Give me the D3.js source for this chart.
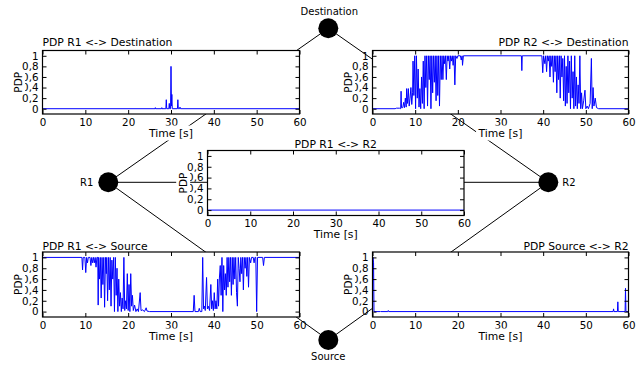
<!DOCTYPE html>
<html><head><meta charset="utf-8">
<script src="https://cdn.jsdelivr.net/npm/d3@7/dist/d3.min.js"></script>
<style>
html,body{margin:0;padding:0;background:#fff;}
svg{display:block;font-family:"DejaVu Sans",sans-serif;}
</style></head>
<body>
<svg id="chart" width="637" height="367"></svg>
<script>
// ---------------- DATA ----------------
const xTicks = [0, 10, 20, 30, 40, 50, 60];
const yTicks = [0, 0.2, 0.4, 0.6, 0.8, 1];
const yTickLabels = ["0", "0,2", "0,4", "0,6", "0,8", "1"];
const xLabel = "Time [s]";
const yLabel = "PDP";

const nodeNames = ["Destination", "R1", "R2", "Source"];
const nodeGridX = [0, -1, 1, 0];
const nodeGridY = [1, 0, 0, -1];
const edges = [["Destination","R1"],["Destination","R2"],["R1","R2"],["R1","Source"],["R2","Source"]];

const plotTitles = ["PDP R1 <-> Destination", "PDP R2 <-> Destination", "PDP R1 <-> R2", "PDP R1 <-> Source", "PDP Source <-> R2"];

// series: [time (s), PDP]
const r1DestSeries = [[0,0],[26.3,0],[26.35,0.02],[26.4,0],[27.8,0],[27.85,0.02],[27.9,0],[28.8,0],[28.9,0.17],[29.0,0],[29.5,0],[29.6,0.1],[29.7,0],[29.9,0],[30.0,0.8],[30.1,0.05],[30.2,0.27],[30.3,0],[31.5,0],[31.6,0.17],[31.7,0],[32.0,0],[32.1,0.03],[32.2,0],[60,0]];

const r2DestSeries = [[0,0],[5.3,0],[5.6,0.01],[6.3,0.01],[6.6,0],[6.7,0.33],[6.8,0.02],[7.1,0.02],[7.3,0.12],[7.5,0.02],[7.7,0.2],[7.9,0.03],[8.0,0.38],[8.2,0.1],[8.4,0.38],[8.6,0.05],[8.8,0.2],[9.0,0.4],[9.2,0.08],[9.4,0.3],[9.5,0.9],[9.7,0.25],[9.9,1],[10.1,0],[10.3,1],[10.5,0.2],[10.7,0.75],[10.9,0.03],[11.1,0.38],[11.3,0],[11.5,0.6],[11.7,0.1],[11.9,0.9],[12.1,0],[12.3,1],[12.5,0.4],[12.7,1],[12.9,0.05],[13.1,1],[13.3,0.55],[13.5,1],[13.7,0],[13.9,1],[14.1,0.3],[14.3,1],[14.5,0.5],[14.7,1],[14.9,0.15],[15.1,1],[15.3,0.25],[15.5,1],[15.7,0.05],[15.9,1],[16.1,0.55],[16.3,1],[16.5,0.55],[16.7,1],[16.9,0.85],[17.1,1],[17.3,0.55],[17.5,1],[17.7,0.9],[17.9,1],[18.1,0.75],[18.3,1],[18.5,0.9],[18.7,1],[18.9,0.82],[19.1,1],[19.3,0.45],[19.5,1],[19.8,0.95],[20.0,1],[20.6,1],[20.8,0.92],[21.0,1],[21.1,0.82],[21.3,1],[34.9,1],[35.0,0.72],[35.1,1],[39.7,1],[39.9,0.68],[40.1,1],[40.4,0.85],[40.6,1],[40.8,0.7],[41.0,1],[41.2,0.9],[41.4,1],[41.6,0.6],[41.8,1],[42.0,0.8],[42.2,1],[42.4,0.5],[42.6,1],[42.8,0.7],[43.0,1],[43.2,0.3],[43.4,1],[43.6,0.55],[43.8,1],[44.0,0.2],[44.2,1],[44.4,0.6],[44.6,0.95],[44.8,0.15],[45.0,1],[45.2,0.05],[45.4,0.8],[45.6,0.1],[45.8,1],[46.0,0.3],[46.2,0.9],[46.4,0],[46.6,1],[46.8,0.2],[47.0,0.7],[47.2,0],[47.4,1],[47.6,0.05],[47.8,0.6],[48.0,0],[48.2,0.45],[48.4,0.1],[48.6,1],[48.8,0],[49.0,0.3],[49.2,0],[49.5,0.15],[49.8,0.35],[50.0,0],[50.3,0.05],[50.6,0],[51.0,0.1],[51.3,0.95],[51.5,0],[51.7,0.4],[51.9,0.05],[52.2,0.2],[52.5,0.02],[53.0,0],[60,0]];

const r1R2Series = [[0,0],[60,0]];

const r1SrcSeries = [[0,1],[9.2,1],[9.35,0.77],[9.5,1],[9.9,1],[10.1,0.72],[10.3,1],[10.5,0.9],[10.7,1],[11.1,1],[11.3,0.85],[11.5,1],[11.7,0.9],[11.9,1],[12.1,0.9],[12.3,1],[12.5,0.82],[12.7,1],[12.9,1],[13.0,0.12],[13.1,1],[13.3,0.6],[13.5,1],[13.7,0.25],[13.9,1],[14.1,0.5],[14.3,1],[14.5,0.08],[14.7,1],[14.9,0.7],[15.0,1],[15.2,0.2],[15.4,1],[15.6,0.4],[15.8,1],[16.0,0.1],[16.2,0.95],[16.4,0.6],[16.6,1],[16.8,0],[17.0,1],[17.2,0.3],[17.4,0.8],[17.6,0],[17.8,0.6],[18.0,0.1],[18.2,0.35],[18.4,0],[18.6,0.25],[18.8,0.05],[19.0,1],[19.2,0.02],[19.4,0.2],[19.6,0.05],[19.8,0.7],[20.0,0.02],[20.2,0.5],[20.4,0],[20.6,0.7],[20.8,0.1],[21.0,0.3],[21.2,0.02],[21.5,0.12],[21.8,0],[22.1,0.05],[22.4,0],[22.8,0.35],[23.0,0.02],[23.4,0.03],[23.8,0],[24.2,0.07],[24.4,0.01],[25.0,0],[35.2,0],[35.4,0.3],[35.6,0],[36.4,0],[36.6,0.06],[36.8,0],[37.2,0],[37.4,1],[37.6,0.05],[37.8,0.1],[38.0,0.02],[38.3,0.63],[38.5,0.05],[38.7,0.1],[39.0,0.02],[39.3,0.5],[39.5,0.05],[39.7,0.2],[39.9,0.02],[40.1,0.35],[40.3,0.05],[40.5,0.2],[40.7,0.05],[40.9,0.6],[41.1,0.1],[41.3,0.62],[41.5,0.85],[41.7,0.3],[41.9,1],[42.1,0],[42.3,0.85],[42.5,0.4],[42.7,0.7],[42.9,0.3],[43.1,1],[43.3,0.45],[43.5,1],[43.7,0.55],[43.9,1],[44.1,0.3],[44.3,1],[44.5,0.5],[44.7,1],[44.9,0.6],[45.1,1],[45.3,0.35],[45.5,0.1],[45.7,1],[45.9,0.8],[46.1,0.55],[46.3,1],[46.5,0.7],[46.7,1],[46.9,0.4],[47.1,1],[47.3,0.8],[47.5,1],[47.7,0.65],[47.9,1],[48.1,0.45],[48.3,1],[48.6,0.9],[48.8,1],[49.2,1],[49.4,0.9],[49.6,1],[49.8,1],[50.0,0],[50.2,1],[51.4,1],[51.6,0.85],[51.8,1],[60,1]];

const srcR2Series = [[0,0],[0.1,1],[0.25,0.9],[0.35,0],[1.8,0],[1.9,0.01],[2.0,0],[3.6,0],[3.7,0.02],[3.8,0],[56.4,0],[56.5,0.05],[56.6,0],[57.4,0],[57.5,0.18],[57.6,0],[59.2,0],[59.3,0.43],[59.4,0],[60,0]];

// ---------------- LAYOUT ----------------
const svg = d3.select("#chart");
const nodeX = d3.scaleLinear().domain([-1, 1]).range([108.3, 548.3]);
const nodeY = d3.scaleLinear().domain([-1, 0, 1]).range([340, 182.3, 28.3]);
const nodes = nodeNames.map((n, i) => ({name: n, gx: nodeGridX[i], gy: nodeGridY[i]}));
const nodeBy = Object.fromEntries(nodes.map(n => [n.name, n]));

const plotLayout = [
  {left: 42.5, right: 299.5, top: 50.5, bottom: 114, anchor: "start", titleOff: 4.5, series: r1DestSeries},
  {left: 372.5, right: 628.5, top: 50.5, bottom: 114, anchor: "end", titleOff: 4.5, series: r2DestSeries},
  {left: 207.5, right: 464, top: 150.5, bottom: 215.5, anchor: "middle", titleOff: 2.5, series: r1R2Series},
  {left: 42.5, right: 299.5, top: 252, bottom: 317, anchor: "start", titleOff: 2.5, series: r1SrcSeries},
  {left: 372.5, right: 628.5, top: 252, bottom: 317, anchor: "end", titleOff: 2.5, series: srcR2Series}
];

// edges (under everything)
svg.append("g").selectAll("line").data(edges).join("line")
  .attr("x1", d => nodeX(nodeBy[d[0]].gx)).attr("y1", d => nodeY(nodeBy[d[0]].gy))
  .attr("x2", d => nodeX(nodeBy[d[1]].gx)).attr("y2", d => nodeY(nodeBy[d[1]].gy))
  .attr("stroke", "#000").attr("stroke-width", 1);

function labelBg(g, textSel) {
  const b = textSel.node().getBBox();
  g.insert("rect", () => textSel.node())
    .attr("x", b.x - 1.5).attr("y", b.y - 1).attr("width", b.width + 3).attr("height", b.height + 2)
    .attr("fill", "#fff");
}

plotLayout.forEach((p, i) => {
  const g = svg.append("g");
  const x = d3.scaleLinear().domain([0, 60]).range([p.left, p.right]);
  const y = d3.scaleLinear().domain([-0.1, 1.1]).range([p.bottom, p.top]);
  g.append("rect").attr("x", p.left).attr("y", p.top)
    .attr("width", p.right - p.left).attr("height", p.bottom - p.top).attr("fill", "#fff");
  const cid = "clip" + i;
  g.append("clipPath").attr("id", cid).append("rect")
    .attr("x", p.left).attr("y", p.top).attr("width", p.right - p.left).attr("height", p.bottom - p.top);
  g.append("path").datum(p.series)
    .attr("clip-path", `url(#${cid})`)
    .attr("fill", "none").attr("stroke", "#0000ff").attr("stroke-width", 1)
    .attr("d", d3.line().x(d => x(d[0])).y(d => y(d[1])));

  const fmtY = v => yTickLabels[yTicks.indexOf(v)];
  const styleAxis = a => { a.select(".domain").remove(); a.attr("font-family", "DejaVu Sans").attr("font-size", 10.3);
    a.selectAll("text").attr("fill", "#000"); a.selectAll("line").attr("stroke", "#000"); };
  g.append("g").attr("transform", `translate(0,${p.bottom})`)
    .call(d3.axisBottom(x).tickValues(xTicks).tickSizeInner(-4).tickSizeOuter(0).tickPadding(4.5).tickFormat(d3.format("d")))
    .call(styleAxis);
  g.append("g").attr("transform", `translate(0,${p.top})`)
    .call(d3.axisTop(x).tickValues(xTicks).tickSizeInner(-4).tickSizeOuter(0).tickFormat(""))
    .call(styleAxis);
  g.append("g").attr("transform", `translate(${p.left},0)`)
    .call(d3.axisLeft(y).tickValues(yTicks).tickSizeInner(-4).tickSizeOuter(0).tickPadding(4).tickFormat(fmtY))
    .call(styleAxis);
  g.append("g").attr("transform", `translate(${p.right},0)`)
    .call(d3.axisRight(y).tickValues(yTicks).tickSizeInner(-4).tickSizeOuter(0).tickFormat(""))
    .call(styleAxis);
  g.append("rect").attr("x", p.left).attr("y", p.top)
    .attr("width", p.right - p.left).attr("height", p.bottom - p.top)
    .attr("fill", "none").attr("stroke", "#000").attr("stroke-width", 1.2);

  // title
  const tx = p.anchor === "start" ? p.left : p.anchor === "end" ? p.right : (p.left + p.right) / 2;
  g.append("text").attr("x", tx).attr("y", p.top - p.titleOff).attr("text-anchor", p.anchor)
    .attr("font-size", 10.8).attr("fill", "#000").text(plotTitles[i]);
  // x label
  const xl = g.append("text").attr("x", (p.left + p.right) / 2).attr("y", p.bottom + 22.5)
    .attr("text-anchor", "middle").attr("font-size", 10.8).attr("fill", "#000").text(xLabel);
  labelBg(g, xl);
  // y label
  const cy = (p.top + p.bottom) / 2, cx = p.left - 24;
  const yl = g.append("text").attr("x", cx).attr("y", cy).attr("dy", "0.35em")
    .attr("transform", `rotate(-90,${cx},${cy})`)
    .attr("text-anchor", "middle").attr("font-size", 10.5).attr("fill", "#000").text(yLabel);
  const b = yl.node().getBBox();
  g.insert("rect", () => yl.node())
    .attr("x", b.x - 1.5).attr("y", b.y - 1).attr("width", b.width + 3).attr("height", b.height + 2)
    .attr("transform", `rotate(-90,${cx},${cy})`).attr("fill", "#fff");
});

// nodes
const ng = svg.append("g");
ng.selectAll("circle").data(nodes).join("circle")
  .attr("cx", d => nodeX(d.gx)).attr("cy", d => nodeY(d.gy)).attr("r", 10).attr("fill", "#000");
const labelPos = {
  Destination: {dx: 1, dy: -13, anchor: "middle"},
  R1: {dx: -15, dy: 3.5, anchor: "end"},
  R2: {dx: 14, dy: 3.5, anchor: "start"},
  Source: {dx: 0, dy: 20, anchor: "middle"}
};
ng.selectAll("text").data(nodes).join("text")
  .attr("x", d => nodeX(d.gx) + labelPos[d.name].dx)
  .attr("y", d => nodeY(d.gy) + labelPos[d.name].dy)
  .attr("text-anchor", d => labelPos[d.name].anchor)
  .attr("font-size", 10).attr("fill", "#000").text(d => d.name);
</script>
</body></html>
